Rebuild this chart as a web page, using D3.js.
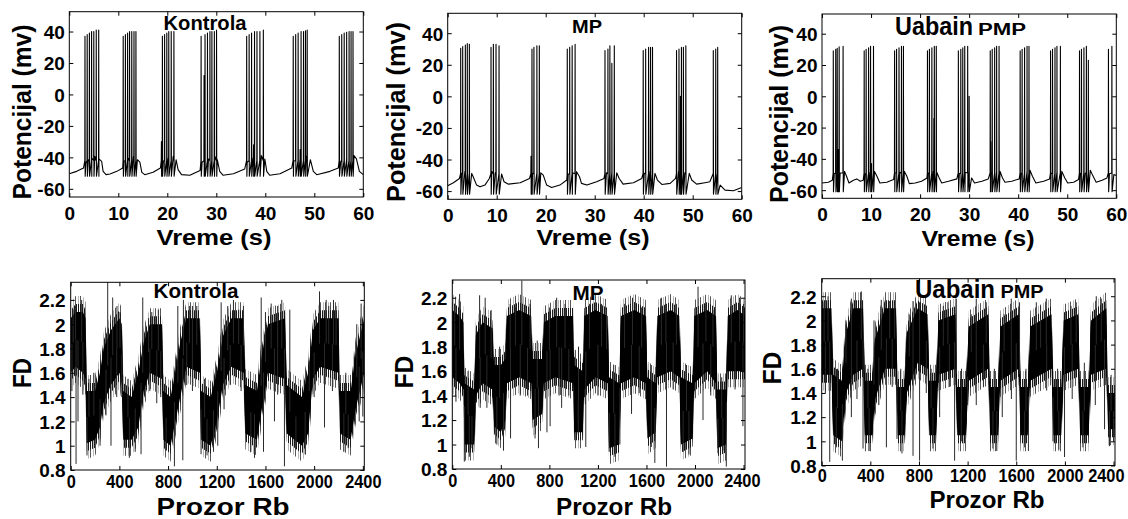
<!DOCTYPE html>
<html><head><meta charset="utf-8">
<script src="https://cdn.jsdelivr.net/npm/d3@7"></script>
<style>
body{margin:0;background:#fff}
svg{display:block}
text{font-family:"Liberation Sans",Arial,Helvetica,sans-serif;font-weight:bold;fill:#000}
</style>
</head><body>
<svg id="c" width="1128" height="519"></svg>
<script>
// ---------------- DATA ----------------
const timeTicks = [0, 10, 20, 30, 40, 50, 60];
const mvTicks = [-60, -40, -20, 0, 20, 40];
const windowTicks = [0, 400, 800, 1200, 1600, 2000, 2400];
const fdTicks = [0.8, 1, 1.2, 1.4, 1.6, 1.8, 2, 2.2];
const panelTitles = ["Kontrola", "MP", "Uabain"];
const panelSubtitles = ["", "", "PMP"];
const topXLabel = "Vreme (s)";
const topYLabel = "Potencijal (mv)";
const botXLabel = "Prozor Rb";
const botYLabel = "FD";

// membrane potential: slow baseline [time s, mV]
const kontrolaBase = [[0,-50.4],[1.5,-48.9],[2.9,-46.8],[3.4,-43.6],[3.9,-41.5],[4.6,-40.4],[5.2,-39.4],[6.05,-41],[6.6,-42.5],[6.9,-48.9],[7.5,-51],[8.3,-50.6],[9.7,-48.9],[10.9,-46.8],[11.2,-42.5],[12.0,-40.4],[13.1,-39.4],[13.9,-41.5],[14.4,-43],[14.8,-49.5],[15.4,-51],[17.1,-49.5],[18.6,-46.8],[19.2,-42.5],[20.2,-40.4],[21.2,-39.4],[21.8,-41.5],[22.2,-47.8],[22.9,-51],[24.6,-51.4],[26.7,-48.3],[27.1,-43.2],[28.4,-41],[29.7,-39.4],[30.2,-41.5],[30.7,-48.9],[31.4,-51.4],[33.5,-50.4],[35.8,-47.4],[36.3,-43.2],[37.5,-40.4],[39.2,-38.9],[39.9,-41],[40.3,-48.9],[40.9,-51.4],[43.0,-50.4],[45.4,-46.8],[45.8,-42.5],[47.1,-41],[48.4,-39.4],[49.2,-41.5],[49.8,-48.9],[50.5,-51],[53.2,-48.9],[54.9,-46.8],[55.4,-42.5],[56.6,-40.4],[58.1,-38.9],[58.6,-41],[59.2,-48.9],[60,-51]];
const kontrolaSpikeT = [3.2,3.65,4.1,4.55,5.0,5.5,6.0, 11.0,11.45,11.9,12.3,12.75,13.2,13.6, 18.8,19.0,19.45,19.9,20.3,20.8,21.35, 26.9,27.5,27.7,28.2,28.7,29.1,29.6,30.05, 36.2,36.7,37.2,37.6,37.8,38.3,38.9,39.6, 45.7,46.2,46.7,47.1,47.3,47.8,48.2,48.55, 55.1,55.6,56.1,56.6,57.1,57.5,57.9];
const kontrolaSpikeV = [37,38,39,40,40,41,41, 37,38,39,40,40,40,40, -30,37,38,39,40,40,40, 37,12,38,39,40,40,40,41, 37,38,39,-32,40,40,40,41, 37,38,39,-35,40,40,40.5,41, 37,38,39,39.5,40,40,40];

const mpBase = [[0,-56.6],[1.16,-54.7],[2.4,-52],[2.86,-48.8],[3.5,-47.7],[4.4,-48.4],[4.9,-48.8],[5.2,-50.9],[5.9,-56.2],[6.6,-57.3],[7.6,-56.2],[8.5,-52],[9.0,-47.7],[9.7,-48.4],[10.5,-47.7],[11.0,-49.2],[11.5,-54.1],[12.4,-55.6],[14.8,-54.7],[16.7,-52],[17.3,-48.8],[18.2,-48.8],[19.0,-48.4],[19.5,-49.9],[20.2,-56.2],[21.2,-57.7],[22.9,-56.2],[24.3,-53],[24.6,-49.2],[25.5,-48.4],[26.3,-47.7],[26.9,-50.9],[27.3,-55.1],[28.4,-56.2],[30.4,-54.1],[31.9,-52],[32.4,-48.4],[33.5,-47.7],[34.5,-48.4],[35.0,-52],[35.8,-55.6],[37.9,-54.7],[39.6,-52],[40.1,-48.8],[41.3,-47.7],[42.3,-48.8],[42.8,-53],[43.7,-55.8],[45.4,-55.1],[46.5,-52],[47.1,-47.7],[48.4,-48.4],[49.3,-48.8],[49.8,-53],[50.8,-55.6],[52.5,-54.7],[53.5,-54.1],[54.2,-49.9],[55.0,-49.9],[55.6,-56.2],[56.6,-59.4],[58.3,-59.8],[60,-57.7]];
const mpSpikeT = [2.65,3.06,3.6,4.0,4.42, 8.84,9.32,9.86,10.48, 17.0,17.2,17.6,18.2,18.7, 24.4,24.9,25.4,26.0, 32.1,32.7,33.1,33.5,34.0, 39.9,40.4,41.0,41.4,41.8, 46.7,47.2,47.5,47.7,48.1,48.6, 54.2,54.7,55.1];
const mpSpikeV = [30.5,31.5,32.5,33.5,33, 31,33,33,32, -38,30,31,32,32, 30,31,32,33, 29,30,32,21,32, 29,30,31,31,31, 29,30,0,31,31,32, 29,30,31];

const uabainBase = [[0,-55.4],[1.3,-54.9],[2.1,-53.7],[2.5,-49.5],[3.7,-49],[4.6,-48],[5.0,-51.1],[5.5,-55.4],[6.4,-53.7],[7.1,-52.8],[7.8,-54.3],[8.4,-53.7],[8.8,-50],[9.8,-48.6],[10.7,-48],[11.2,-51.1],[11.8,-55.4],[13.2,-54.9],[14.6,-53.2],[14.9,-49],[15.9,-48.6],[16.8,-48],[17.3,-51.1],[17.8,-55.8],[19.0,-55.4],[20.3,-54.3],[21.4,-52.2],[21.7,-49],[22.7,-48],[23.4,-48.6],[23.9,-52.2],[24.4,-55.4],[25.8,-54.3],[27.5,-52.8],[28.0,-49.5],[29.2,-48.6],[30.0,-48],[30.5,-52.2],[31.1,-55.4],[32.6,-54.3],[33.9,-52.8],[34.5,-49.5],[35.6,-48.6],[36.3,-48],[36.8,-52.2],[37.3,-54.9],[38.7,-54.3],[40.2,-52.8],[40.6,-49.5],[41.8,-48],[42.4,-47.3],[42.9,-51.1],[43.6,-55.4],[45.2,-54.3],[46.4,-52.8],[46.7,-49.5],[47.9,-48.6],[48.9,-48],[49.5,-52.2],[50.1,-55.4],[51.3,-54.9],[52.3,-53.2],[52.7,-49.5],[53.7,-49],[54.7,-47.3],[55.2,-50.7],[55.9,-54.9],[57.1,-53.7],[58.1,-52.2],[58.6,-49.5],[59.5,-50],[60,-50.7]];
const uabainSpikeT = [2.3,2.8,3.1,3.3,3.5,4.3, 8.6,9.0,9.5,9.9,10.1,10.5, 14.8,15.2,15.7,16.2,16.6, 21.5,21.9,22.4,22.8,22.9,23.3, 27.8,28.3,28.7,29.1,29.7,30.0, 34.3,34.4,34.7,35.2,35.6,36.1, 40.4,40.8,41.3,41.8,42.2, 46.6,47.0,47.5,47.9,48.6, 52.5,52.9,53.4,53.9,54.3, 58.4,59.1];
const uabainSpikeV = [29,30,30.7,-34,31.6,32, 29,30,31,32,-43,32, 29,30,31,32,32, 29,30,31,-14,32,32, 29,30,31,32,32,0, 29,-29,30,31,32,32, 29,30,31,32,32, 29,30,31,32,32, 29,30,31,32,23, 30,32];

const spikeOnsets = [-42, -49, -49];
const spikeTroughs = [-52, -62, -61];

// fractal dimension: dense band (low / high edge) at breakpoints, plus outlying excursions
const fdKontrolaW  = [0,40,100,122,132,200,240,270,330,400,420,432,500,555,600,650,750,762,820,850,900,950,1060,1072,1150,1200,1250,1320,1420,1435,1530,1570,1620,1760,1775,1900,1950,1990,2050,2200,2212,2300,2340,2412];
const fdKontrolaLo = [1.6,1.65,1.6,1.55,1.02,1.05,1.15,1.35,1.5,1.6,1.5,1.05,1.05,1.15,1.45,1.6,1.55,1.05,1.0,1.15,1.4,1.65,1.6,1.05,1.0,1.2,1.5,1.65,1.6,1.1,1.05,1.3,1.6,1.55,1.1,1.0,1.1,1.55,1.65,1.6,1.1,1.05,1.3,1.6];
const fdKontrolaHi = [2.05,2.1,2.1,2.05,1.45,1.45,1.6,1.8,1.95,2.05,2.0,1.45,1.4,1.6,1.85,2.0,2.0,1.45,1.4,1.55,1.85,2.05,2.05,1.45,1.4,1.6,1.9,2.05,2.05,1.5,1.45,1.75,2.0,2.05,1.5,1.4,1.6,1.95,2.05,2.05,1.45,1.45,1.75,2.05];
const fdKontrolaUpW = [40,90,304,345,405,592,666,880,926,975,1036,1236,1337,1419,1565,1647,1734,2044,2099,2159,2386, 20,150,190,380,470,640,720,1000,1100,1290,1380,1600,1700,1800,1960,2120,2180,2260,2350];
const fdKontrolaUpV = [2.15,2.2,2.35,2.22,2.1,2.22,2.1,2.15,2.2,2.15,2.15,2.18,2.2,2.15,2.22,2.17,2.2,2.27,2.2,2.2,2.17, 2.12,1.55,1.6,2.15,1.55,2.05,2.12,2.15,1.55,2.15,2.12,2.1,2.15,2.12,1.7,2.15,2.15,1.6,2.0];
const fdKontrolaDnW = [44,60,134,241,331,378,482,578,707,784,852,921,953,1071,1173,1208,1310,1510,1584,1674,1756,1926,2085,2244,2400, 10,100,290,420,530,650,740,1000,1120,1260,1400,1480,1700,1850,2000,2150,2280,2370];
const fdKontrolaDnV = [0.85,1.2,0.92,1.0,1.0,1.4,0.9,0.93,1.35,0.96,0.83,0.88,1.5,0.93,0.95,1.0,1.5,0.9,0.95,1.2,0.83,0.93,1.15,0.95,1.24, 1.45,1.42,1.25,1.4,0.95,1.45,1.4,1.45,0.92,1.3,1.45,0.95,1.42,0.97,1.4,1.45,0.98,1.2];

const fdMpW  = [0,60,92,100,180,195,250,330,345,400,436,450,550,650,662,740,755,850,995,1005,1075,1088,1180,1280,1292,1375,1390,1500,1595,1608,1675,1690,1800,1870,1885,1980,1995,2100,2172,2185,2255,2270,2350,2416];
const fdMpLo = [1.55,1.5,1.45,1.0,1.0,1.4,1.5,1.45,1.15,1.1,1.2,1.5,1.55,1.5,1.2,1.25,1.5,1.55,1.5,1.1,1.1,1.45,1.55,1.5,0.97,1.0,1.5,1.55,1.5,1.05,1.1,1.55,1.6,1.55,1.0,1.05,1.5,1.6,1.5,0.97,1.0,1.6,1.6,1.6];
const fdMpHi = [2.1,2.05,2.0,1.5,1.45,1.9,2.0,1.95,1.65,1.65,1.7,2.05,2.1,2.05,1.7,1.7,2.0,2.05,2.05,1.65,1.6,2.05,2.1,2.05,1.55,1.5,2.05,2.1,2.05,1.55,1.5,2.05,2.1,2.05,1.55,1.5,2.05,2.1,2.05,1.45,1.45,2.05,2.1,2.05];
const fdMpUpW = [60,225,271,477,573,641,860,929,1230,1271,1485,1723,1847,2025,2148,2299,2367, 20,130,320,390,520,700,800,1040,1130,1330,1420,1560,1640,1760,1930,2090,2220,2400];
const fdMpUpV = [2.23,2.22,2.2,2.15,2.34,2.15,2.2,2.15,2.15,2.1,2.2,2.2,2.15,2.29,2.1,2.22,2.2, 2.15,1.6,2.1,1.8,2.12,1.85,2.12,1.8,2.15,1.65,2.15,2.12,1.65,2.15,1.65,2.15,1.55,2.15];
const fdMpDnW = [99,162,285,367,422,682,710,806,901,1038,1293,1381,1477,1669,1765,1902,2066,2189,2258,2395, 30,140,230,480,560,620,780,880,960,1100,1200,1340,1540,1640,1820,1950,2130,2230,2330];
const fdMpDnV = [0.86,0.97,1.3,1.0,0.95,1.05,0.97,1.15,1.3,1.08,0.94,1.0,1.25,0.85,0.82,0.94,1.2,0.93,0.82,1.15, 1.35,0.9,1.3,1.05,1.4,1.4,1.1,1.4,1.4,0.98,1.4,0.9,1.42,0.98,1.45,0.92,1.4,0.95,1.45];

const fdUabainW  = [0,80,95,165,200,260,340,355,415,440,520,610,625,680,700,790,870,885,940,960,1100,1115,1185,1210,1370,1385,1450,1470,1620,1635,1695,1715,1890,1905,1970,1990,2110,2125,2195,2215,2340,2355,2410];
const fdUabainLo = [1.55,1.55,1.05,1.0,1.4,1.55,1.6,1.05,1.05,1.35,1.6,1.6,1.05,1.05,1.4,1.65,1.6,1.05,1.05,1.55,1.6,1.05,1.05,1.5,1.6,1.05,1.05,1.5,1.6,1.05,1.05,1.5,1.6,1.05,1.05,1.55,1.6,1.05,1.05,1.55,1.6,1.1,1.1];
const fdUabainHi = [2.1,2.1,1.55,1.5,1.9,2.1,2.1,1.5,1.5,1.85,2.1,2.1,1.45,1.45,1.9,2.1,2.05,1.5,1.5,2.0,2.05,1.45,1.45,1.95,2.05,1.45,1.45,1.95,2.05,1.45,1.45,1.95,2.05,1.45,1.45,2.0,2.05,1.45,1.45,2.0,2.1,1.4,1.4];
const fdUabainUpW = [52,244,326,490,559,751,805,1038,1107,1271,1353,1559,1627,1765,1847,2093,2258,2299, 20,130,200,380,430,600,650,720,900,1000,1150,1230,1420,1500,1680,1800,1940,2050,2160,2380];
const fdUabainUpV = [2.2,2.18,2.24,2.17,2.16,2.16,2.15,2.15,2.18,2.18,2.15,2.18,2.15,2.15,2.18,2.15,2.2,2.18, 2.15,1.6,2.0,1.6,2.0,2.12,1.6,2.05,1.6,2.12,1.6,2.05,1.6,2.05,1.6,2.12,1.6,2.12,1.65,1.55];
const fdUabainDnW = [66,170,244,340,532,619,751,805,915,970,1093,1148,1271,1408,1485,1600,1669,1902,1997,2148,2326,2367, 30,120,290,390,470,580,660,860,1050,1200,1330,1440,1560,1700,1850,1950,2060,2250,2400];
const fdUabainDnV = [0.83,0.84,1.2,0.94,0.95,1.02,0.88,0.84,0.94,1.2,0.84,1.0,1.3,0.94,1.2,0.84,0.95,1.0,0.87,0.95,1.1,0.96, 1.4,0.95,1.35,0.92,1.3,1.45,0.9,1.4,1.45,1.3,1.45,0.92,1.35,0.92,1.42,0.93,1.35,1.3,1.0];

// ---------------- LAYOUT ----------------
const topLayout = [
  {x0:69.3, x1:363.3, y0:11.7, y1:197,   title:{x:205, y:30, fs:21, len:83},  sub:null,
   xl:{x:214, y:245, len:115}, yl:{x:31, y:112, len:175}},
  {x0:447.7, x1:741.7, y0:13.3, y1:199.3, title:{x:587, y:33, fs:19, len:30}, sub:null,
   xl:{x:593, y:245, len:113}, yl:{x:405, y:112, len:180}},
  {x0:822, x1:1116.3, y0:14, y1:198.3,  title:{x:934, y:35, fs:25, len:78}, sub:{x:1002, y:35, fs:16, len:48},
   xl:{x:978, y:246, len:113}, yl:{x:788, y:114, len:178}}
];
const botLayout = [
  {x0:70.7, x1:364.3, y0:282.3, y1:470, title:{x:196, y:298, fs:21, len:85}, sub:null, xOff:18, lastDx:0,
   xl:{x:223, y:515, fs:24, len:133}, yl:{x:31, y:373, len:30}},
  {x0:452.3, x1:745, y0:280, y1:469,  title:{x:588, y:299.5, fs:21, len:31}, sub:null, xOff:18, lastDx:-2,
   xl:{x:614, y:515, fs:24, len:116}, yl:{x:413, y:372, len:33}},
  {x0:821.7, x1:1115, y0:278.7, y1:465.5, title:{x:955, y:298, fs:26, len:80}, sub:{x:1022, y:298, fs:18, len:43}, xOff:16.5, lastDx:-9,
   xl:{x:987, y:508, fs:23, len:115}, yl:{x:781, y:368, len:33}}
];

const svg = d3.select("#c");
const defs = svg.append("defs");
// fine vertical hatch used to render the fringe of the dense FD trace
const p1 = defs.append("pattern").attr("id", "hatch1").attr("width", 2).attr("height", 10)
  .attr("patternUnits", "userSpaceOnUse");
p1.append("rect").attr("width", 1).attr("height", 10).attr("fill", "#1a1a1a");
const p2 = defs.append("pattern").attr("id", "hatch2").attr("width", 5).attr("height", 10)
  .attr("patternUnits", "userSpaceOnUse");
p2.append("rect").attr("width", 1).attr("height", 10).attr("fill", "#555");
p2.append("rect").attr("x", 3).attr("width", 0.6).attr("height", 10).attr("fill", "#888");

function frame(g, L, x, y, xt, yt, opt) {
  const fs = opt.fs;
  const bx = g.append("g").attr("transform", `translate(0,${L.y1})`)
    .call(d3.axisBottom(x).tickValues(xt).tickSize(-4).tickFormat(d => String(d)));
  bx.select(".domain").remove();
  bx.selectAll("text").attr("dy", null).attr("y", opt.xOff)
    .attr("transform", `scale(${opt.xScale},1)`);
  if (opt.lastDx) bx.selectAll(".tick:last-of-type text").attr("dx", opt.lastDx);
  const tx = g.append("g").attr("transform", `translate(0,${L.y0})`)
    .call(d3.axisTop(x).tickValues(xt).tickSize(-4).tickFormat(() => ""));
  tx.select(".domain").remove();
  const ly = g.append("g").attr("transform", `translate(${L.x0},0)`)
    .call(d3.axisLeft(y).tickValues(yt).tickSize(-4).tickFormat(d => String(d)));
  ly.select(".domain").remove();
  ly.selectAll("text").attr("x", -opt.yGap).attr("dy", "0.36em");
  const ry = g.append("g").attr("transform", `translate(${L.x1},0)`)
    .call(d3.axisRight(y).tickValues(yt).tickSize(-4).tickFormat(() => ""));
  ry.select(".domain").remove();
  [bx, tx, ly, ry].forEach(a => a.attr("font-family", null).attr("font-size", fs)
    .selectAll("line").attr("stroke", "#000"));
  g.append("rect").attr("x", L.x0).attr("y", L.y0)
    .attr("width", L.x1 - L.x0).attr("height", L.y1 - L.y0)
    .attr("fill", "none").attr("stroke", "#000").attr("stroke-width", 1);
}

function labels(g, L, i, xLab, yLab, xfs, yfs) {
  const t = L.title;
  if (L.sub) {
    g.append("text").attr("x", t.x - t.len / 2).attr("y", t.y).attr("font-size", t.fs)
      .attr("textLength", t.len).attr("lengthAdjust", "spacingAndGlyphs").text(panelTitles[i]);
    const s = L.sub;
    g.append("text").attr("x", s.x - s.len / 2).attr("y", s.y).attr("font-size", s.fs)
      .attr("textLength", s.len).attr("lengthAdjust", "spacingAndGlyphs").text(panelSubtitles[i]);
  } else {
    g.append("text").attr("x", t.x).attr("y", t.y).attr("text-anchor", "middle").attr("font-size", t.fs)
      .attr("textLength", t.len).attr("lengthAdjust", "spacingAndGlyphs").text(panelTitles[i]);
  }
  g.append("text").attr("x", L.xl.x).attr("y", L.xl.y).attr("text-anchor", "middle")
    .attr("font-size", L.xl.fs || xfs).attr("textLength", L.xl.len).attr("lengthAdjust", "spacingAndGlyphs").text(xLab);
  g.append("text").attr("transform", `translate(${L.yl.x},${L.yl.y}) rotate(-90)`)
    .attr("text-anchor", "middle").attr("font-size", yfs).attr("fill", "#140000")
    .attr("textLength", L.yl.len).attr("lengthAdjust", "spacingAndGlyphs").text(yLab);
}

// ---------- top row: membrane potential ----------
const topSets = [
  [kontrolaBase, kontrolaSpikeT, kontrolaSpikeV],
  [mpBase, mpSpikeT, mpSpikeV],
  [uabainBase, uabainSpikeT, uabainSpikeV]
];
topLayout.forEach((L, i) => {
  const g = svg.append("g");
  const x = d3.scaleLinear().domain([0, 60]).range([L.x0, L.x1]);
  const y = d3.scaleLinear().domain([-65.2, 52.6]).range([L.y1, L.y0]);
  const cid = "ct" + i;
  defs.append("clipPath").attr("id", cid).append("rect")
    .attr("x", L.x0).attr("y", L.y0).attr("width", L.x1 - L.x0).attr("height", L.y1 - L.y0);
  const [base, st, sv] = topSets[i];
  const pts = base.map(d => ({t: d[0], v: d[1]}));
  st.forEach((t, k) => {
    pts.push({t: t - 0.03, v: spikeOnsets[i]});
    pts.push({t: t, v: sv[k]});
    pts.push({t: t + 0.04, v: spikeTroughs[i]});
  });
  pts.sort((a, b) => a.t - b.t);
  const line = d3.line().x(d => x(d.t)).y(d => y(d.v));
  g.append("path").attr("clip-path", `url(#${cid})`).attr("d", line(pts))
    .attr("fill", "none").attr("stroke", "#000").attr("stroke-width", 1.1).attr("stroke-linejoin", "round");
  frame(g, L, x, y, timeTicks, mvTicks, {fs: 19, xOff: 23, xScale: 1, yGap: 4.5, lastDx: 0});
  labels(g, L, i, topXLabel, topYLabel, 22, 25);
});

// ---------- bottom row: fractal dimension ----------
const botSets = [
  [fdKontrolaW, fdKontrolaLo, fdKontrolaHi, fdKontrolaUpW, fdKontrolaUpV, fdKontrolaDnW, fdKontrolaDnV],
  [fdMpW, fdMpLo, fdMpHi, fdMpUpW, fdMpUpV, fdMpDnW, fdMpDnV],
  [fdUabainW, fdUabainLo, fdUabainHi, fdUabainUpW, fdUabainUpV, fdUabainDnW, fdUabainDnV]
];
botLayout.forEach((L, i) => {
  const g = svg.append("g");
  const x = d3.scaleLinear().domain([0, 2412]).range([L.x0, L.x1]);
  const y = d3.scaleLinear().domain([0.8, 2.345]).range([L.y1, L.y0]);
  const cid = "cb" + i;
  defs.append("clipPath").attr("id", cid).append("rect")
    .attr("x", L.x0).attr("y", L.y0).attr("width", L.x1 - L.x0).attr("height", L.y1 - L.y0);
  const [W, Lo, Hi, UW, UV, DW, DV] = botSets[i];
  const mid = d3.scaleLinear().domain(W).range(W.map((w, k) => (Lo[k] + Hi[k]) / 2));
  const cg = g.append("g").attr("clip-path", `url(#${cid})`);
  // outer fringe (sparse hatch), inner fringe (dense hatch), solid core
  const fringe = (pad) => d3.area().x(d => x(d))
    .y0((d, k) => y(Lo[k]) + pad).y1((d, k) => y(Hi[k]) - pad);
  cg.append("path").attr("d", fringe(16)(W)).attr("fill", "url(#hatch2)");
  cg.append("path").attr("d", fringe(8)(W)).attr("fill", "url(#hatch1)");
  cg.append("path").attr("d", fringe(0)(W)).attr("fill", "#000");
  cg.selectAll(".up").data(UW).join("line")
    .attr("x1", d => x(d)).attr("x2", d => x(d))
    .attr("y1", d => y(mid(d))).attr("y2", (d, k) => y(UV[k]))
    .attr("stroke", "#2a2a2a").attr("stroke-width", 1);
  cg.selectAll(".dn").data(DW).join("line")
    .attr("x1", d => x(d)).attr("x2", d => x(d))
    .attr("y1", d => y(mid(d))).attr("y2", (d, k) => y(DV[k]))
    .attr("stroke", "#2a2a2a").attr("stroke-width", 1);
  frame(g, L, x, y, windowTicks, fdTicks, {fs: 19, xOff: L.xOff, xScale: 0.86, yGap: 5, lastDx: L.lastDx});
  labels(g, L, i, botXLabel, botYLabel, 24, 25);
});
</script>
</body></html>
